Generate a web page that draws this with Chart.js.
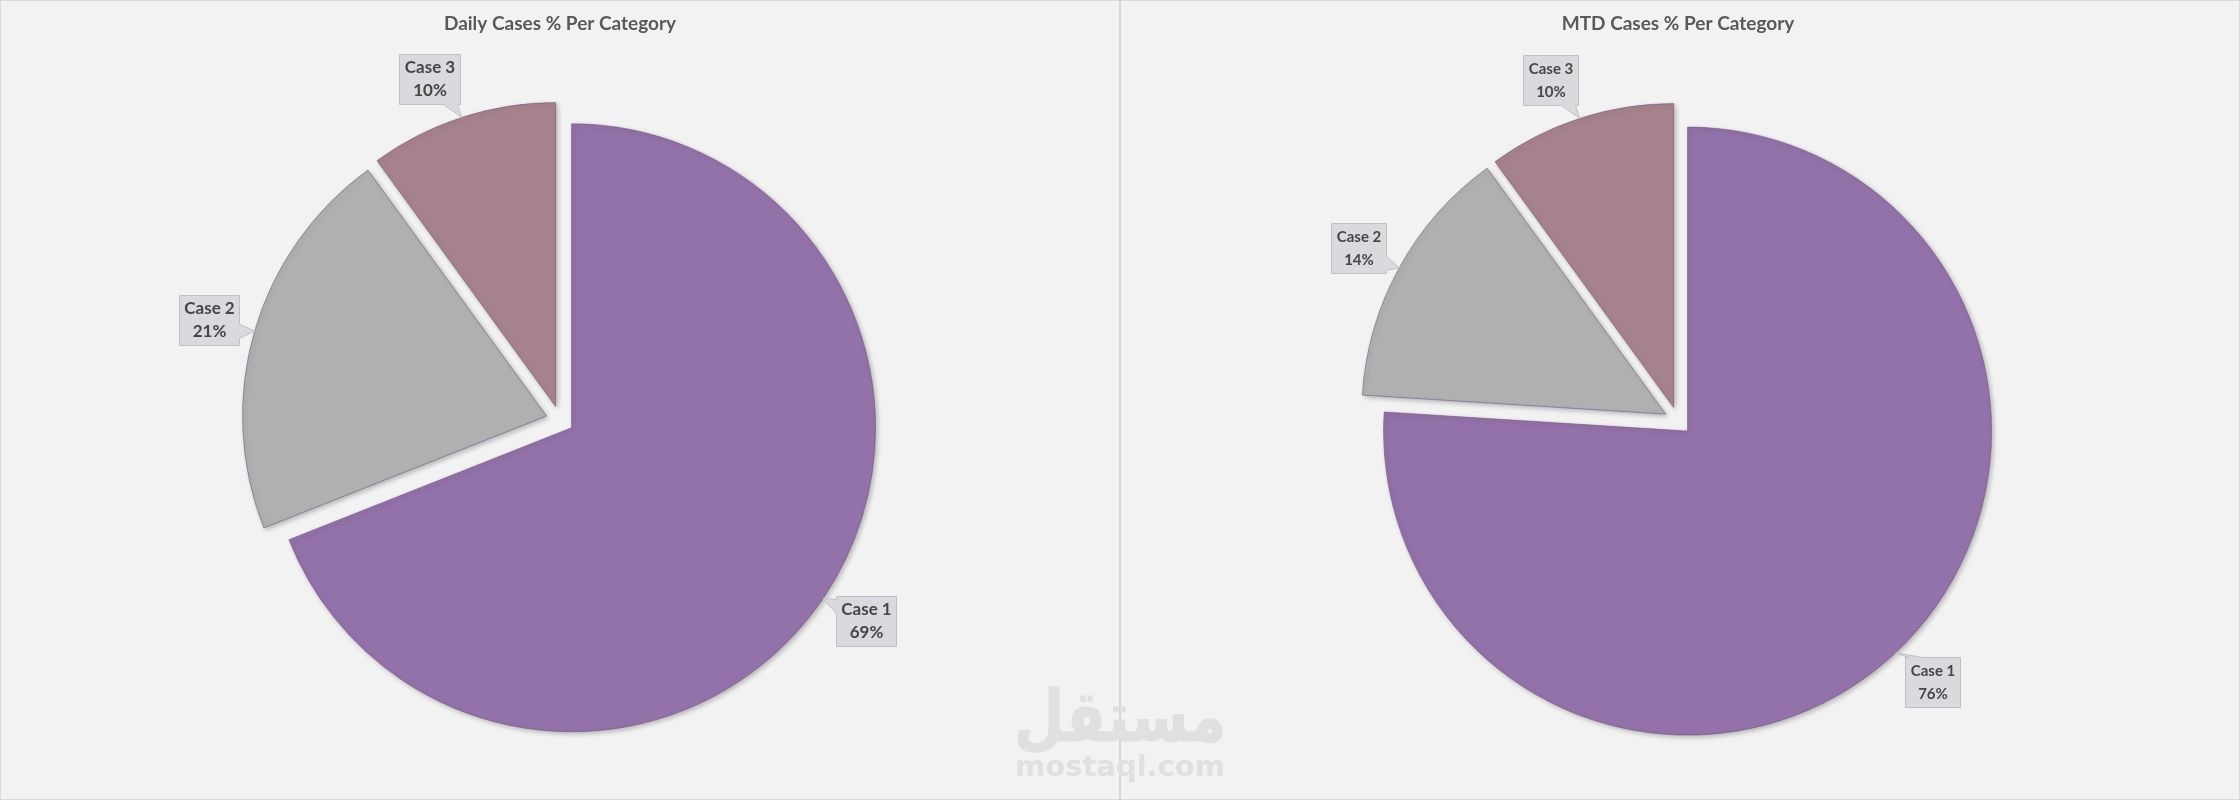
<!DOCTYPE html>
<html>
<head>
    <meta charset="utf-8">
    <style>
        body {
            margin: 0;
            background: #f2f2f2;
            font-family: Lato, sans-serif;
        }
        .board {
            position: relative;
            width: 2240px;
            height: 800px;
            overflow: hidden;
        }
        .panel {
            position: absolute;
            top: 0;
            width: 1120px;
            height: 800px;
        }
        .frame {
            position: absolute;
            left: 0;
            top: 0;
            width: 2238px;
            height: 798px;
            border: 1px solid #d9d9de;
            pointer-events: none;
        }
        .divider {
            position: absolute;
            left: 1119px;
            top: 0;
            width: 2px;
            height: 800px;
            background: #d4d4da;
            pointer-events: none;
        }
        .mark {
            position: absolute;
            left: 1000px;
            width: 240px;
            text-align: center;
            color: #e0e0e0;
            font-family: "DejaVu Sans", sans-serif;
            font-weight: bold;
            pointer-events: none;
        }
        .mark.ar {
            top: 688px;
            font-size: 58px;
            line-height: 58px;
            transform: scaleY(1.22);
            transform-origin: 50% 50%;
            -webkit-text-stroke: 1px #e0e0e0;
        }
        .mark.en {
            top: 752px;
            font-size: 29px;
            line-height: 29px;
        }
    </style>
</head>
<body>
    <div class="board">
        <div class="panel" style="left: 0"><canvas id="dailyChart"></canvas></div>
        <div class="panel" style="left: 1120px"><canvas id="mtdChart"></canvas></div>
        <div class="divider"></div>
        <div class="frame"></div>
        <div class="mark ar" dir="rtl">مستقل</div>
        <div class="mark en">mostaql.com</div>
    </div>

    <script src="https://cdn.jsdelivr.net/npm/chart.js@4.4.1/dist/chart.umd.min.js"></script>
    <script>
        const categories = ['Case 1', 'Case 2', 'Case 3'];
        const dailyValues = [69, 21, 10];
        const mtdValues = [76, 14, 10];
        const dailyTitle = 'Daily Cases % Per Category';
        const mtdTitle = 'MTD Cases % Per Category';

        const sliceColors = ['#9371a9', '#b0b0b0', '#a6828c'];
        const EXPLODE = 14;   // px each slice is pulled out
        const RADIUS = 304;

        function clamp(v, lo, hi) {
            return Math.min(Math.max(v, lo), hi);
        }

        // box with a little pointer going to the slice edge
        function calloutPath(ctx, x0, y0, x1, y1, tipX, tipY, dx, dy) {
            const half = 7;
            ctx.beginPath();
            if (Math.abs(dy) > Math.abs(dx)) {
                const px = clamp(tipX, x0 + 10, x1 - 10);
                if (dy < 0) {
                    ctx.moveTo(x0, y0); ctx.lineTo(x1, y0); ctx.lineTo(x1, y1);
                    ctx.lineTo(px + half, y1); ctx.lineTo(tipX, tipY); ctx.lineTo(px - half, y1);
                    ctx.lineTo(x0, y1);
                } else {
                    ctx.moveTo(x0, y0); ctx.lineTo(px - half, y0); ctx.lineTo(tipX, tipY);
                    ctx.lineTo(px + half, y0); ctx.lineTo(x1, y0); ctx.lineTo(x1, y1); ctx.lineTo(x0, y1);
                }
            } else {
                const py = clamp(tipY, y0 + 10, y1 - 10);
                if (dx < 0) {
                    ctx.moveTo(x0, y0); ctx.lineTo(x1, y0); ctx.lineTo(x1, py - half);
                    ctx.lineTo(tipX, tipY); ctx.lineTo(x1, py + half); ctx.lineTo(x1, y1); ctx.lineTo(x0, y1);
                } else {
                    ctx.moveTo(x0, y0); ctx.lineTo(x1, y0); ctx.lineTo(x1, y1); ctx.lineTo(x0, y1);
                    ctx.lineTo(x0, py + half); ctx.lineTo(tipX, tipY); ctx.lineTo(x0, py - half);
                }
            }
            ctx.closePath();
        }

        const explodedPie = {
            id: 'explodedPie',
            beforeDatasetDraw(chart, args) {
                const ctx = chart.ctx;
                args.meta.data.forEach(arc => {
                    const mid = (arc.startAngle + arc.endAngle) / 2;
                    ctx.save();
                    ctx.translate(Math.cos(mid) * EXPLODE, Math.sin(mid) * EXPLODE);
                    ctx.shadowColor = 'rgba(0, 0, 0, 0.25)';
                    ctx.shadowBlur = 5;
                    ctx.shadowOffsetX = 2;
                    ctx.shadowOffsetY = 2;
                    arc.draw(ctx);
                    ctx.restore();
                });
                return false;
            },
            afterDatasetsDraw(chart, args, opts) {
                const ctx = chart.ctx;
                const meta = chart.getDatasetMeta(0);
                const values = chart.data.datasets[0].data;
                const total = values.reduce((a, b) => a + b, 0);
                ctx.save();
                ctx.font = 'bold ' + opts.fontSize + 'px Lato';
                ctx.textAlign = 'center';
                ctx.textBaseline = 'middle';
                meta.data.forEach((arc, i) => {
                    const mid = (arc.startAngle + arc.endAngle) / 2;
                    const dx = Math.cos(mid), dy = Math.sin(mid);
                    const tipX = arc.x + dx * (EXPLODE + arc.outerRadius);
                    const tipY = arc.y + dy * (EXPLODE + arc.outerRadius);
                    const line1 = chart.data.labels[i];
                    const line2 = Math.round(values[i] / total * 100) + '%';
                    const w = Math.max(ctx.measureText(line1).width, ctx.measureText(line2).width) + 10;
                    const h = 50;
                    const cx = tipX + Math.sign(dx) * (w / 2 + 20 * Math.abs(dx) - 4);
                    const cy = tipY + dy * 40;
                    const x0 = Math.round(cx - w / 2) + 0.5, x1 = Math.round(cx + w / 2) + 0.5;
                    const y0 = Math.round(cy - h / 2) + 0.5, y1 = Math.round(cy + h / 2) + 0.5;

                    calloutPath(ctx, x0, y0, x1, y1, tipX, tipY, dx, dy);
                    ctx.fillStyle = '#d9d9de';
                    ctx.fill();
                    ctx.strokeStyle = '#bfbfc4';
                    ctx.lineWidth = 1;
                    ctx.stroke();

                    ctx.fillStyle = '#464646';
                    ctx.fillText(line1, (x0 + x1) / 2, (y0 + y1) / 2 - 11.5);
                    ctx.fillText(line2, (x0 + x1) / 2, (y0 + y1) / 2 + 11.5);
                });
                ctx.restore();
            }
        };

        function makePie(canvasId, title, values, labelSize, padRight, padBottom) {
            const ctx = document.getElementById(canvasId).getContext('2d');
            return new Chart(ctx, {
                type: 'pie',
                data: {
                    labels: categories,
                    datasets: [{
                        data: values,
                        backgroundColor: sliceColors,
                        borderColor: 'rgba(110, 80, 125, 0.55)',
                        borderWidth: 1,
                        radius: RADIUS
                    }]
                },
                options: {
                    responsive: true,
                    maintainAspectRatio: false,
                    animation: false,
                    events: [],
                    layout: {
                        padding: { top: 0, bottom: padBottom, left: 0, right: padRight }
                    },
                    plugins: {
                        legend: { display: false },
                        tooltip: { enabled: false },
                        title: {
                            display: true,
                            text: title,
                            color: '#595959',
                            font: { family: 'Lato', size: 19, weight: 'bold' },
                            padding: { top: 12, bottom: 20 }
                        },
                        explodedPie: { fontSize: labelSize }
                    }
                },
                plugins: [explodedPie]
            });
        }

        makePie('dailyChart', dailyTitle, dailyValues, 17, 0, 15);
        makePie('mtdChart', mtdTitle, mtdValues, 15, 4, 13);
    </script>
</body>
</html>
